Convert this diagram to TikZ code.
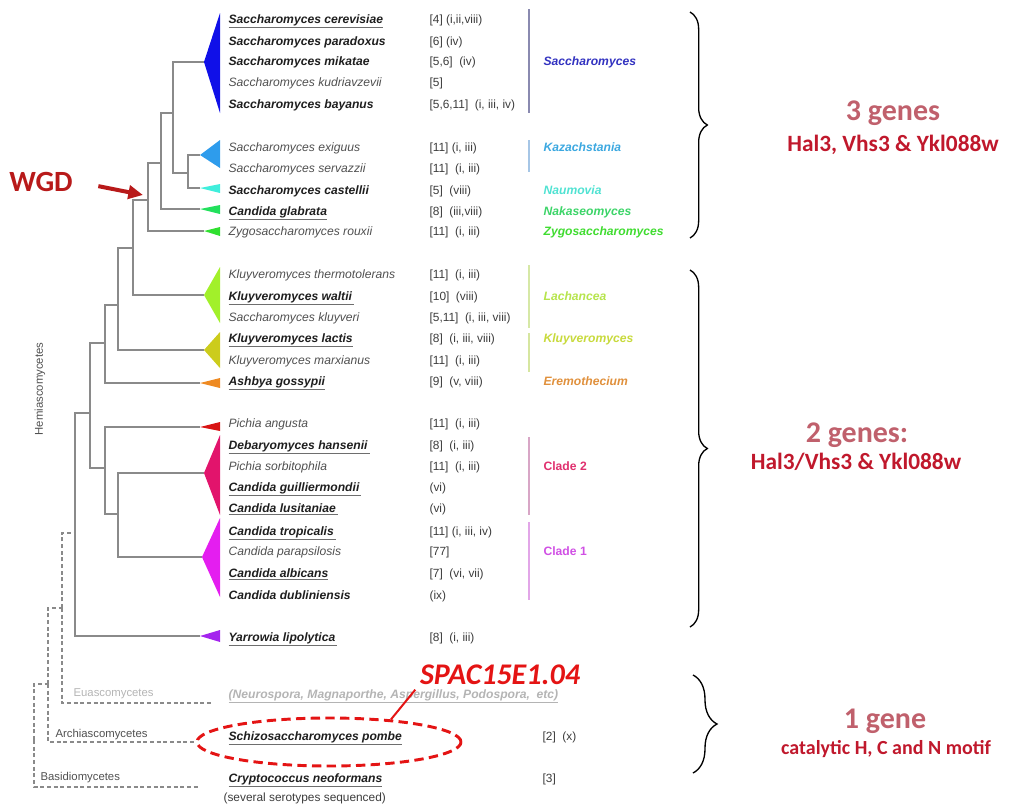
\documentclass[tikz,border=0pt]{standalone}
\usepackage{fontspec}
\setmainfont{Liberation Sans}
\newfontfamily\calibfont{Carlito}
\usepackage{xcolor}
\usepackage{tikz}
\usetikzlibrary{shapes.geometric, positioning, arrows.meta, calc}
\usetikzlibrary{decorations.pathreplacing}

\definecolor{branchgray}{HTML}{8A8A8A}
\definecolor{spdark}{HTML}{1E1E1E}
\definecolor{spgray}{HTML}{505050}
\definecolor{ulgray}{HTML}{6E6E6E}
\definecolor{refgray}{HTML}{3C3C3C}
\definecolor{eugray}{HTML}{B4B4B4}
\definecolor{wSac}{HTML}{1010E8}
\definecolor{wKaz}{HTML}{2E9CEC}
\definecolor{wNau}{HTML}{40EEDC}
\definecolor{wGla}{HTML}{22E05C}
\definecolor{wZyg}{HTML}{30E030}
\definecolor{wLac}{HTML}{A2F02A}
\definecolor{wKlu}{HTML}{CCCC1C}
\definecolor{wAsh}{HTML}{EE8A22}
\definecolor{wPic}{HTML}{D81414}
\definecolor{wClTwo}{HTML}{E2146C}
\definecolor{wClOne}{HTML}{E41EF0}
\definecolor{wYar}{HTML}{A424EE}
\definecolor{gSac}{HTML}{3232C0}
\definecolor{gKaz}{HTML}{3CA8E0}
\definecolor{gNau}{HTML}{50E2D2}
\definecolor{gNak}{HTML}{3CD468}
\definecolor{gZyg}{HTML}{40DC30}
\definecolor{gLac}{HTML}{B6E44C}
\definecolor{gKlu}{HTML}{C8DA3C}
\definecolor{gEre}{HTML}{E0903C}
\definecolor{gClTwo}{HTML}{E0306E}
\definecolor{gClOne}{HTML}{D050E4}
\definecolor{bSac}{HTML}{8A8AB0}
\definecolor{bKaz}{HTML}{A6C6E6}
\definecolor{bLac}{HTML}{D6E8A6}
\definecolor{bKlu}{HTML}{D6E6A0}
\definecolor{bClTwo}{HTML}{D8A6C6}
\definecolor{bClOne}{HTML}{E2A6E8}
\definecolor{wgdred}{HTML}{B81A1A}
\definecolor{spacred}{HTML}{E41414}
\definecolor{countrose}{HTML}{C0606C}
\definecolor{genered}{HTML}{C0182C}

\newcommand{\spul}[1]{\textcolor{ulgray}{\underline{\textcolor{spdark}{#1}}}}

\begin{document}
\begin{tikzpicture}[
    x=0.75pt, y=-0.75pt,
    branch/.style={draw=branchgray, line width=1pt},
    dashbranch/.style={draw=branchgray, line width=0.9pt, dash pattern=on 3pt off 2pt},
    species/.style={anchor=west, inner sep=1pt, text height=6.6pt, text depth=2pt, font=\fontsize{9.1}{10}\selectfont\itshape, text=spgray},
    boldsp/.style={species, font=\fontsize{9.1}{10}\selectfont\bfseries\itshape, text=spdark},
    refs/.style={anchor=west, inner sep=1pt, text height=6.6pt, text depth=2pt, font=\fontsize{8.9}{10}\selectfont, text=refgray},
    genus/.style={anchor=west, inner sep=1pt, text height=6.6pt, text depth=2pt, font=\fontsize{9.1}{10}\selectfont\bfseries\itshape},
    cladebar/.style={line width=1.1pt},
    group/.style={anchor=west, inner sep=1pt, font=\fontsize{8.5}{10}\selectfont, text=spgray},
    brace/.style={decorate, decoration={brace, amplitude=13pt}, line width=1pt},
    count/.style={font=\calibfont\bfseries\fontsize{22.5}{26}\selectfont, text=countrose},
    genes/.style={font=\calibfont\bfseries\fontsize{17.5}{20}\selectfont, text=genered}
]
    \useasboundingbox (0,0) rectangle (1011,804);

    % ================= CLADE WEDGES =================
    \coordinate (sac) at (204,62);
    \coordinate (kaz) at (200,155);
    \coordinate (nau) at (200,188);
    \coordinate (gla) at (200,209);
    \coordinate (zyg) at (204,231);
    \coordinate (lac) at (204,295);
    \coordinate (klu) at (204,350);
    \coordinate (ash) at (200,383);
    \coordinate (pic) at (200,427);
    \coordinate (cl2) at (204,473);
    \coordinate (cl1) at (202,557);
    \coordinate (yar) at (200,636);

    \fill[wSac] (sac) -- (220,13) -- (220,113) -- cycle;
    \fill[wKaz] (kaz) -- (220,140) -- (220,168) -- cycle;
    \fill[wNau] (nau) -- (220,184) -- (220,193) -- cycle;
    \fill[wGla] (gla) -- (220,205) -- (220,214) -- cycle;
    \fill[wZyg] (zyg) -- (220,227) -- (220,236) -- cycle;
    \fill[wLac] (lac) -- (220,267) -- (220,323) -- cycle;
    \fill[wKlu] (klu) -- (220,332) -- (220,368) -- cycle;
    \fill[wAsh] (ash) -- (220,378) -- (220,388) -- cycle;
    \fill[wPic] (pic) -- (220,422) -- (220,431) -- cycle;
    \fill[wClTwo] (cl2) -- (220,435) -- (220,515) -- cycle;
    \fill[wClOne] (cl1) -- (220,518) -- (220,597) -- cycle;
    \fill[wYar] (yar) -- (220,630) -- (220,642) -- cycle;

    % ================= TREE =================
    \coordinate (nKN) at (188,173);
    \coordinate (nSac) at (173,113);
    \coordinate (nG) at (161,163);
    \coordinate (nZ) at (148,200);
    \coordinate (nL) at (133,248);
    \coordinate (nK) at (118,305);
    \coordinate (nA) at (105,343);
    \coordinate (nC2) at (118,514);
    \coordinate (nP) at (105,468);
    \coordinate (nH) at (90,413);
    \coordinate (nY) at (75,533);
    \coordinate (nE) at (62,608);
    \coordinate (nAr) at (48,684);
    \coordinate (nB) at (34,740);
    \coordinate (euas) at (213,703);
    \coordinate (basid) at (200,787);

    \draw[branch] (nKN) |- (kaz);
    \draw[branch] (nKN) |- (nau);
    \draw[branch] (nSac) |- (sac);
    \draw[branch] (nSac) |- (nKN);
    \draw[branch] (nG) |- (nSac);
    \draw[branch] (nG) |- (gla);
    \draw[branch] (nZ) |- (nG);
    \draw[branch] (nZ) |- (zyg);
    \draw[branch] (nL) |- (nZ);
    \draw[branch] (nL) |- (lac);
    \draw[branch] (nK) |- (nL);
    \draw[branch] (nK) |- (klu);
    \draw[branch] (nA) |- (nK);
    \draw[branch] (nA) |- (ash);
    \draw[branch] (nC2) |- (cl2);
    \draw[branch] (nC2) |- (cl1);
    \draw[branch] (nP) |- (pic);
    \draw[branch] (nP) |- (nC2);
    \draw[branch] (nH) |- (nA);
    \draw[branch] (nH) |- (nP);
    \draw[branch] (nY) |- (nH);
    \draw[branch] (nY) |- (yar);

    % ================= POMBE RING =================
    \node[draw=spacred, ellipse, line width=2.2pt, dash pattern=on 7pt off 4pt,
          minimum width=198pt, minimum height=36pt] (pombering) at (329,742) {};

    % dashed outgroups
    \draw[dashbranch] (nE) |- (nY);
    \draw[dashbranch] (nE) |- (euas);
    \draw[dashbranch] (nAr) |- (nE);
    \draw[dashbranch] (nAr) |- (pombering.west);
    \draw[dashbranch] (nB) |- (nAr);
    \draw[dashbranch] (nB) |- (basid);

    \node[group, rotate=90, anchor=center] (hemi) at (40,389) {Hemiascomycetes};
    \node[group, text=eugray] (euasc) at (72,694) {Euascomycetes};
    \node[group] (archi) at (54,735) {Archiascomycetes};
    \node[group] (basidio) at (39,778) {Basidiomycetes};

    % ================= SPECIES =================
    \node[boldsp] (scer) at (227,20) {\spul{Saccharomyces cerevisiae}};
    \node[boldsp] (spar) at (227,42) {Saccharomyces paradoxus};
    \node[boldsp] (smik) at (227,62) {Saccharomyces mikatae};
    \node[species] (skud) at (227,83) {Saccharomyces kudriavzevii};
    \node[boldsp] (sbay) at (227,105) {Saccharomyces bayanus};
    \node[species] (sexi) at (227,148) {Saccharomyces exiguus};
    \node[species] (sser) at (227,169) {Saccharomyces servazzii};
    \node[boldsp] (scas) at (227,191) {Saccharomyces castellii};
    \node[boldsp] (cgla) at (227,212) {\spul{Candida glabrata}};
    \node[species] (zrou) at (227,232) {Zygosaccharomyces rouxii};
    \node[species] (kthe) at (227,275) {Kluyveromyces thermotolerans};
    \node[boldsp] (kwal) at (227,297) {\spul{Kluyveromyces waltii\,}};
    \node[species] (sklu) at (227,318) {Saccharomyces kluyveri};
    \node[boldsp] (klac) at (227,339) {\spul{Kluyveromyces lactis}};
    \node[species] (kmar) at (227,361) {Kluyveromyces marxianus};
    \node[boldsp] (agos) at (227,382) {\spul{Ashbya gossypii}};
    \node[species] (pang) at (227,424) {Pichia angusta};
    \node[boldsp] (dhan) at (227,446) {\spul{Debaryomyces hansenii\,}};
    \node[species] (psor) at (227,467) {Pichia sorbitophila};
    \node[boldsp] (cgui) at (227,488) {\spul{Candida guilliermondii\,}};
    \node[boldsp] (clus) at (227,509) {\spul{Candida lusitaniae\,}};
    \node[boldsp] (ctro) at (227,532) {\spul{Candida tropicalis\,}};
    \node[species] (cpar) at (227,552) {Candida parapsilosis};
    \node[boldsp] (calb) at (227,574) {\spul{Candida albicans}};
    \node[boldsp] (cdub) at (227,596) {Candida dubliniensis};
    \node[boldsp] (ylip) at (227,638) {\spul{Yarrowia lipolytica\,}};
    \node[boldsp, text=eugray] (neur) at (227,695) {\underline{(Neurospora, Magnaporthe, Aspergillus, Podospora,~ etc)}};
    \node[boldsp] (spom) at (227,737) {\spul{Schizosaccharomyces pombe}};
    \node[boldsp] (cneo) at (227,779) {\spul{Cryptococcus neoformans}};
    \node[refs] (sero) at (222,798) {(several serotypes sequenced)};

    % ================= REFERENCES =================
    \node[refs] (scer-ref) at (428,20) {[4] (i,ii,viii)};
    \node[refs] (spar-ref) at (428,42) {[6] (iv)};
    \node[refs] (smik-ref) at (428,62) {[5,6]~ (iv)};
    \node[refs] (skud-ref) at (428,83) {[5]};
    \node[refs] (sbay-ref) at (428,105) {[5,6,11]~ (i, iii, iv)};
    \node[refs] (sexi-ref) at (428,148) {[11] (i, iii)};
    \node[refs] (sser-ref) at (428,169) {[11]~ (i, iii)};
    \node[refs] (scas-ref) at (428,191) {[5]~ (viii)};
    \node[refs] (cgla-ref) at (428,212) {[8]~ (iii,viii)};
    \node[refs] (zrou-ref) at (428,232) {[11]~ (i, iii)};
    \node[refs] (kthe-ref) at (428,275) {[11]~ (i, iii)};
    \node[refs] (kwal-ref) at (428,297) {[10]~ (viii)};
    \node[refs] (sklu-ref) at (428,318) {[5,11]~ (i, iii, viii)};
    \node[refs] (klac-ref) at (428,339) {[8]~ (i, iii, viii)};
    \node[refs] (kmar-ref) at (428,361) {[11]~ (i, iii)};
    \node[refs] (agos-ref) at (428,382) {[9]~ (v, viii)};
    \node[refs] (pang-ref) at (428,424) {[11]~ (i, iii)};
    \node[refs] (dhan-ref) at (428,446) {[8]~ (i, iii)};
    \node[refs] (psor-ref) at (428,467) {[11]~ (i, iii)};
    \node[refs] (cgui-ref) at (428,488) {(vi)};
    \node[refs] (clus-ref) at (428,509) {(vi)};
    \node[refs] (ctro-ref) at (428,532) {[11] (i, iii, iv)};
    \node[refs] (cpar-ref) at (428,552) {[77]};
    \node[refs] (calb-ref) at (428,574) {[7]~ (vi, vii)};
    \node[refs] (cdub-ref) at (428,596) {(ix)};
    \node[refs] (ylip-ref) at (428,638) {[8]~ (i, iii)};
    \node[refs] (spom-ref) at (541,737) {[2]~ (x)};
    \node[refs] (cneo-ref) at (541,779) {[3]};

    % ================= GENERA =================
    \draw[cladebar, draw=bSac] (529,9) -- (529,113);
    \draw[cladebar, draw=bKaz] (529,140) -- (529,172);
    \draw[cladebar, draw=bLac] (529,265) -- (529,328);
    \draw[cladebar, draw=bKlu] (529,333) -- (529,372);
    \draw[cladebar, draw=bClTwo] (529,437) -- (529,515);
    \draw[cladebar, draw=bClOne] (529,522) -- (529,600);

    \node[genus, text=gSac] (gen-sac) at (542,62) {Saccharomyces};
    \node[genus, text=gKaz] (gen-kaz) at (542,148) {Kazachstania};
    \node[genus, text=gNau] (gen-nau) at (542,191) {Naumovia};
    \node[genus, text=gNak] (gen-nak) at (542,212) {Nakaseomyces};
    \node[genus, text=gZyg] (gen-zyg) at (542,232) {Zygosaccharomyces};
    \node[genus, text=gLac] (gen-lac) at (542,297) {Lachancea};
    \node[genus, text=gKlu] (gen-klu) at (542,339) {Kluyveromyces};
    \node[genus, text=gEre] (gen-ere) at (542,382) {Eremothecium};
    \node[genus, font=\fontsize{9.1}{10}\selectfont\bfseries, text=gClTwo] (gen-cl2) at (542,467) {Clade 2};
    \node[genus, font=\fontsize{9.1}{10}\selectfont\bfseries, text=gClOne] (gen-cl1) at (542,552) {Clade 1};

    % ================= ANNOTATIONS =================
    \node[font=\calibfont\bfseries\fontsize{22}{26}\selectfont, text=wgdred] (wgd) at (41,182) {WGD};
    \coordinate (wgdtip) at (143,195);
    \draw[wgdred, line width=3pt, shorten <=16pt, -{Triangle[length=11pt, width=10pt]}] (wgd.east) -- (wgdtip);

    \node[font=\calibfont\bfseries\itshape\fontsize{22.5}{26}\selectfont, text=spacred] (spac) at (500,675) {SPAC15E1.04};
    \draw[spacred, line width=1.5pt] (pombering.20) -- (spac.south west);

    % ================= GENE COUNTS =================
    \draw[brace] (690,12) -- (690,238);
    \draw[brace] (690,270) -- (690,627);
    \draw[brace, decoration={brace, amplitude=18pt}] (693,675) -- (693,773);

    \node[count] (three) at (893,113) {3 genes};
    \node[genes] (three-g) at (893,145) {Hal3, Vhs3 \& Ykl088w};
    \node[count] (two) at (857,435) {2 genes:};
    \node[genes] (two-g) at (856,462) {Hal3/Vhs3 \& Ykl088w};
    \node[count] (one) at (885,721) {1 gene};
    \node[genes, font=\calibfont\bfseries\fontsize{15}{18}\selectfont] (one-g) at (886,749) {catalytic H, C and N motif};

\end{tikzpicture}
\end{document}
